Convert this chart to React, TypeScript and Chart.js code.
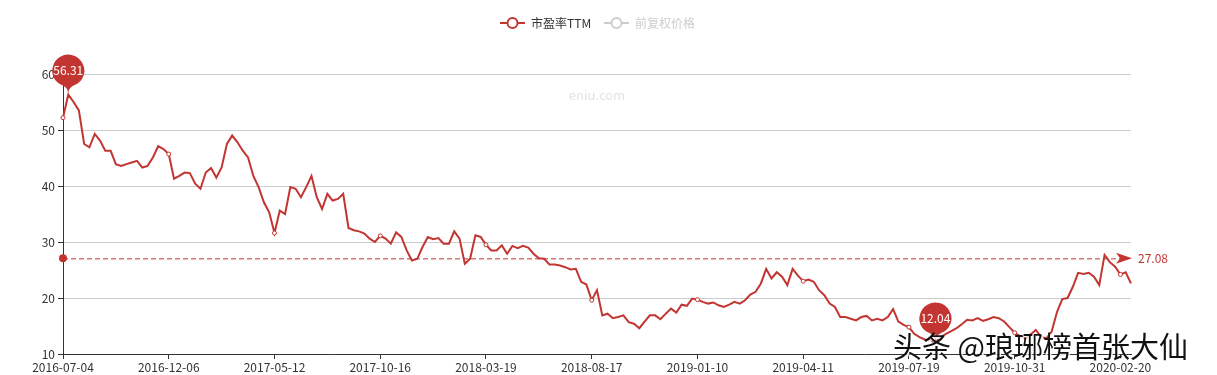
import { useEffect, useRef } from 'react';
import { Chart, registerables } from 'chart.js';

Chart.register(...registerables);

const STEP = 20;
const tickLabels = [
  '2016-07-04', '2016-12-06', '2017-05-12', '2017-10-16', '2018-03-19', '2018-08-17',
  '2019-01-10', '2019-04-11', '2019-07-19', '2019-10-31', '2020-02-20',
];

const peValues = [
  52.2, 56.31, 55.0, 53.5, 47.5, 46.9, 49.3, 48.1, 46.3, 46.3,
  43.9, 43.6, 43.9, 44.2, 44.5, 43.3, 43.6, 45.1, 47.1, 46.6,
  45.7, 41.3, 41.8, 42.4, 42.3, 40.4, 39.5, 42.4, 43.2, 41.5,
  43.3, 47.5, 49.0, 47.8, 46.3, 45.1, 41.8, 39.8, 37.1, 35.3,
  31.6, 35.6, 35.0, 39.8, 39.5, 38.0, 39.8, 41.8, 38.0, 35.9,
  38.6, 37.4, 37.7, 38.6, 32.5, 32.1, 31.9, 31.5, 30.6, 30.0,
  31.1, 30.6, 29.7, 31.7, 30.9, 28.5, 26.7, 27.0, 29.1, 30.9,
  30.5, 30.7, 29.7, 29.7, 31.9, 30.6, 26.1, 27.0, 31.2, 30.9,
  29.5, 28.5, 28.5, 29.4, 27.9, 29.3, 28.9, 29.3, 29.0, 27.9,
  27.1, 27.0, 26.0, 26.0, 25.8, 25.5, 25.1, 25.2, 22.9, 22.4,
  19.6, 21.4, 16.9, 17.2, 16.4, 16.6, 16.9, 15.7, 15.4, 14.6,
  15.8, 16.9, 16.9, 16.2, 17.2, 18.1, 17.4, 18.8, 18.6, 19.9,
  19.7, 19.3, 19.0, 19.2, 18.7, 18.4, 18.8, 19.3, 19.0, 19.6,
  20.6, 21.1, 22.6, 25.2, 23.5, 24.6, 23.8, 22.3, 25.2, 24.0,
  23.0, 23.3, 22.9, 21.4, 20.5, 19.0, 18.4, 16.6, 16.6, 16.3,
  16.0, 16.6, 16.8, 16.0, 16.3, 16.0, 16.6, 18.0, 15.8, 15.2,
  14.8, 13.6, 13.0, 12.6, 12.5, 12.04, 13.0, 13.6, 14.1, 14.6,
  15.3, 16.1, 16.0, 16.4, 15.9, 16.2, 16.6, 16.4, 15.8, 14.8,
  13.8, 13.2, 12.8, 13.5, 14.3, 13.0, 12.8, 14.0, 17.5, 19.8,
  20.0, 22.0, 24.5, 24.3, 24.5, 23.8, 22.3, 27.7, 26.4, 25.6,
  24.2, 24.6, 22.6,
];

const AVG = 27.08;
const seriesNames = ['市盈率TTM', '前复权价格'];
const siteMark = 'eniu.com';
const authorMark = '头条 @琅琊榜首张大仙';

const RED = '#c23531';
const FONT = '"Microsoft YaHei", "Noto Sans CJK SC", "Noto Sans", sans-serif';

const categories = peValues.map((_, i) => (i % STEP === 0 ? tickLabels[i / STEP] ?? '' : ''));

function pinPath(ctx: CanvasRenderingContext2D, x: number, y: number, r: number, h: number) {
  const dy = (r * r) / (h - r);
  const cy = y - h + r + dy;
  const angle = Math.asin(dy / r);
  const dx = Math.cos(angle) * r;
  const tanX = Math.sin(angle);
  const tanY = Math.cos(angle);
  const cpLen = r * 0.6;
  const cpLen2 = r * 0.7;
  ctx.beginPath();
  ctx.moveTo(x - dx, cy + dy);
  ctx.arc(x, cy, r, Math.PI - angle, Math.PI * 2 + angle);
  ctx.bezierCurveTo(x + dx - tanX * cpLen, cy + dy + tanY * cpLen, x, y - cpLen2, x, y);
  ctx.bezierCurveTo(x, y - cpLen2, x - dx + tanX * cpLen, cy + dy + tanY * cpLen, x - dx, cy + dy);
  ctx.closePath();
  return cy;
}

const overlay = {
  id: 'overlay',
  beforeDatasetsDraw(chart: any) {
    const { ctx, chartArea } = chart;
    ctx.save();
    ctx.font = `13px ${FONT}`;
    ctx.fillStyle = '#e3e3e3';
    ctx.textAlign = 'center';
    ctx.textBaseline = 'middle';
    ctx.fillText(siteMark, 597, chartArea.top + 21);
    ctx.restore();
  },
  afterDatasetsDraw(chart: any) {
    const { ctx, chartArea } = chart;
    const xs = chart.scales.x;
    const ys = chart.scales.y;
    ctx.save();
    // average mark line
    const ya = ys.getPixelForValue(AVG);
    ctx.strokeStyle = RED;
    ctx.lineWidth = 1;
    ctx.setLineDash([5, 3]);
    ctx.beginPath();
    ctx.moveTo(chartArea.left, ya + 0.5);
    ctx.lineTo(chartArea.right - 10, ya + 0.5);
    ctx.stroke();
    ctx.setLineDash([]);
    ctx.fillStyle = RED;
    ctx.beginPath();
    ctx.arc(chartArea.left, ya, 4, 0, Math.PI * 2);
    ctx.fill();
    const tip = chartArea.right + 1;
    ctx.beginPath();
    ctx.moveTo(tip, ya);
    ctx.lineTo(tip - 16, ya - 5.5);
    ctx.lineTo(tip - 12, ya);
    ctx.lineTo(tip - 16, ya + 5.5);
    ctx.closePath();
    ctx.fill();
    ctx.font = `12px ${FONT}`;
    ctx.textAlign = 'left';
    ctx.textBaseline = 'middle';
    ctx.fillText(AVG.toFixed(2), tip + 6, ya);

    // max / min pins
    let maxI = 0;
    let minI = 0;
    peValues.forEach((v, i) => {
      if (v > peValues[maxI]) maxI = i;
      if (v < peValues[minI]) minI = i;
    });
    [maxI, minI].forEach((idx) => {
      const px = xs.getPixelForValue(idx);
      const py = ys.getPixelForValue(peValues[idx]);
      ctx.fillStyle = RED;
      const cy = pinPath(ctx, px, py, 16, 48);
      ctx.fill();
      ctx.fillStyle = '#fff';
      ctx.font = `12px ${FONT}`;
      ctx.textAlign = 'center';
      ctx.textBaseline = 'middle';
      ctx.fillText(peValues[idx].toFixed(2), px, cy);
    });
    ctx.restore();
  },
  afterDraw(chart: any) {
    const { ctx } = chart;
    ctx.save();
    // legend
    const drawItem = (x: number, color: string, textColor: string, text: string) => {
      const y = 23;
      ctx.strokeStyle = color;
      ctx.lineWidth = 2;
      ctx.beginPath();
      ctx.moveTo(x, y);
      ctx.lineTo(x + 25, y);
      ctx.stroke();
      ctx.beginPath();
      ctx.arc(x + 12.5, y, 5, 0, Math.PI * 2);
      ctx.fillStyle = '#fff';
      ctx.fill();
      ctx.stroke();
      ctx.font = `12px ${FONT}`;
      ctx.fillStyle = textColor;
      ctx.textAlign = 'left';
      ctx.textBaseline = 'middle';
      ctx.fillText(text, x + 31, y);
    };
    drawItem(500, RED, '#333', seriesNames[0]);
    drawItem(604, '#ccc', '#ccc', seriesNames[1]);

    // author watermark
    ctx.font = `29px ${FONT}`;
    ctx.textAlign = 'left';
    ctx.textBaseline = 'alphabetic';
    ctx.shadowColor = 'rgba(255,255,255,0.95)';
    ctx.shadowOffsetX = 1.5;
    ctx.shadowOffsetY = 1.5;
    ctx.shadowBlur = 1;
    ctx.fillStyle = '#111';
    ctx.fillText(authorMark, 893, 358);
    ctx.restore();
  },
};

export default function App() {
  const ref = useRef<HTMLCanvasElement>(null);
  useEffect(() => {
    const canvas = ref.current!;
    Chart.defaults.font.family = FONT;
    const chart = new Chart(canvas, {
      type: 'line',
      data: {
        labels: categories,
        datasets: [
          {
            label: seriesNames[0],
            data: peValues,
            borderColor: RED,
            backgroundColor: RED,
            borderWidth: 2,
            tension: 0,
            pointRadius: peValues.map((_, i) => (i % STEP === 0 ? 2 : 0)),
            pointBackgroundColor: '#fff',
            pointBorderColor: RED,
            pointBorderWidth: 1,
            pointHoverRadius: 0,
          },
          {
            label: seriesNames[1],
            data: [],
            hidden: true,
            borderColor: '#ccc',
          },
        ],
      },
      options: {
        responsive: false,
        animation: false,
        devicePixelRatio: 1,
        events: [],
        layout: { padding: { left: 0, right: 86, top: 74, bottom: 0 } },
        plugins: { legend: { display: false }, tooltip: { enabled: false } },
        scales: {
          x: {
            type: 'category',
            offset: false,
            grid: { drawOnChartArea: false, drawTicks: true, tickLength: 5, tickColor: '#333' },
            border: { color: '#333', width: 1 },
            ticks: {
              autoSkip: false,
              maxRotation: 0,
              minRotation: 0,
              padding: 1,
              color: '#333',
              font: { size: 12 },
              callback: (_v: any, i: number) => (i % STEP === 0 ? categories[i] : null),
            },
            afterFit: (s: any) => {
              s.height = 21;
            },
          },
          y: {
            min: 10,
            max: 60,
            ticks: { stepSize: 10, padding: 3, color: '#333', font: { size: 12 } },
            grid: { color: '#ccc', tickLength: 5, tickColor: '#333' },
            border: { color: '#333', width: 1 },
            afterFit: (s: any) => {
              s.width = 63;
            },
          },
        },
      } as any,
      plugins: [overlay],
    });
    return () => chart.destroy();
  }, []);
  return (
    <div style={{ position: 'fixed', left: 0, top: 0, width: 1217, height: 375, background: '#fff' }}>
      <canvas ref={ref} width={1217} height={375} style={{ display: 'block' }} />
    </div>
  );
}
